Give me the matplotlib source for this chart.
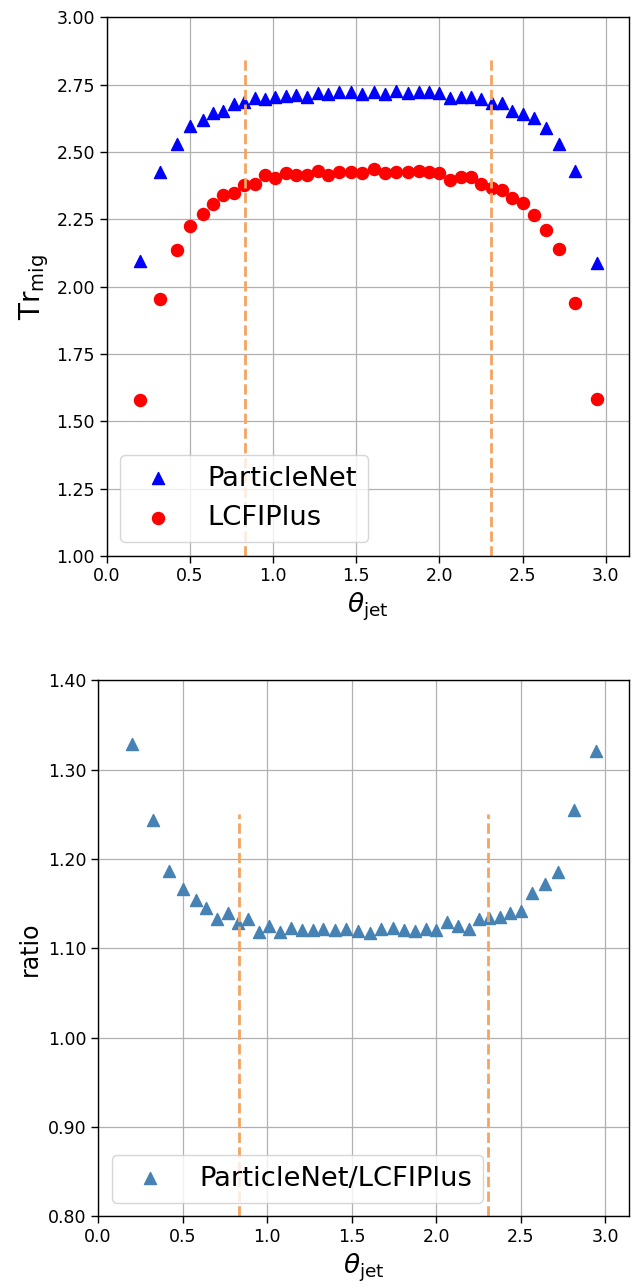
import numpy as np
import matplotlib
matplotlib.use('Agg')
import matplotlib.pyplot as plt
from matplotlib.ticker import FormatStrFormatter

# theta_jet bin positions
theta = [0.201, 0.323, 0.421, 0.501, 0.577, 0.640, 0.702, 0.766, 0.828, 0.890,
         0.954, 1.014, 1.076, 1.140, 1.204, 1.270, 1.332, 1.400, 1.468, 1.536,
         1.606, 1.674, 1.742, 1.810, 1.875, 1.939, 2.001, 2.065, 2.131, 2.193,
         2.253, 2.315, 2.379, 2.439, 2.503, 2.569, 2.643, 2.719, 2.817, 2.945]

tr_particlenet = [2.097, 2.426, 2.531, 2.595, 2.620, 2.644, 2.654, 2.677, 2.685, 2.699,
                  2.698, 2.704, 2.707, 2.712, 2.703, 2.720, 2.714, 2.722, 2.723, 2.714,
                  2.722, 2.717, 2.727, 2.718, 2.722, 2.722, 2.719, 2.699, 2.703, 2.703,
                  2.697, 2.681, 2.681, 2.652, 2.640, 2.628, 2.588, 2.530, 2.431, 2.086]

tr_lcfiplus = [1.579, 1.953, 2.135, 2.225, 2.271, 2.306, 2.341, 2.348, 2.378, 2.383,
               2.414, 2.405, 2.421, 2.415, 2.415, 2.428, 2.416, 2.427, 2.425, 2.422,
               2.437, 2.423, 2.427, 2.425, 2.431, 2.426, 2.422, 2.395, 2.407, 2.407,
               2.383, 2.368, 2.360, 2.328, 2.312, 2.266, 2.212, 2.139, 1.939, 1.583]

ratio = [1.329, 1.244, 1.186, 1.166, 1.154, 1.145, 1.133, 1.139, 1.128, 1.133,
         1.118, 1.125, 1.118, 1.123, 1.120, 1.120, 1.122, 1.120, 1.122, 1.119,
         1.117, 1.122, 1.123, 1.121, 1.119, 1.122, 1.121, 1.129, 1.125, 1.122,
         1.133, 1.134, 1.135, 1.140, 1.142, 1.162, 1.172, 1.185, 1.255, 1.321]

# barrel boundaries
cuts = [0.832, 2.309]

plt.rcParams['xtick.labelsize'] = 12.5
plt.rcParams['ytick.labelsize'] = 12.5
plt.rcParams['xtick.major.size'] = 4.8
plt.rcParams['ytick.major.size'] = 4.8
plt.rcParams['xtick.major.width'] = 1.0
plt.rcParams['ytick.major.width'] = 1.0
plt.rcParams['axes.linewidth'] = 1.0

fig = plt.figure(figsize=(6.37, 12.86), dpi=100)

# top: trace of migration matrix
ax1 = fig.add_axes([0.1672, 0.5677, 0.8207, 0.4188])
ax1.set_axisbelow(True)
ax1.grid(color='#b0b0b0', linewidth=0.9)
ax1.scatter(theta, tr_particlenet, marker='^', s=75, color='blue', label='ParticleNet')
ax1.scatter(theta, tr_lcfiplus, marker='o', s=75, color='red', label='LCFIPlus')
ax1.vlines(cuts, 1.0, 2.85, colors='sandybrown', linestyles='--', linewidths=2)
ax1.set_xlim(0, np.pi)
ax1.set_ylim(1.0, 3.0)
ax1.set_yticks(np.arange(1.0, 3.01, 0.25))
ax1.yaxis.set_major_formatter(FormatStrFormatter('%.2f'))
ax1.set_xticks(np.arange(0, 3.01, 0.5))
ax1.set_xlabel(r'$\theta_{\mathrm{jet}}$', fontsize=19)
ax1.set_ylabel(r'$\mathrm{Tr}_{\mathrm{mig}}$', fontsize=20)
ax1.legend(loc='lower left', fontsize=19.7)

# bottom: ratio
ax2 = fig.add_axes([0.1538, 0.0542, 0.8341, 0.4168])
ax2.set_axisbelow(True)
ax2.grid(color='#b0b0b0', linewidth=0.9)
ax2.scatter(theta, ratio, marker='^', s=75, color='steelblue', label='ParticleNet/LCFIPlus')
ax2.vlines(cuts, 0.8, 1.25, colors='sandybrown', linestyles='--', linewidths=2)
ax2.set_xlim(0, np.pi)
ax2.set_ylim(0.8, 1.4)
ax2.set_yticks(np.arange(0.8, 1.401, 0.1))
ax2.yaxis.set_major_formatter(FormatStrFormatter('%.2f'))
ax2.set_xticks(np.arange(0, 3.01, 0.5))
ax2.set_xlabel(r'$\theta_{\mathrm{jet}}$', fontsize=19)
ax2.set_ylabel('ratio', fontsize=17)
ax2.legend(loc='lower left', fontsize=19.7)

fig.savefig('out.png', dpi=100)
